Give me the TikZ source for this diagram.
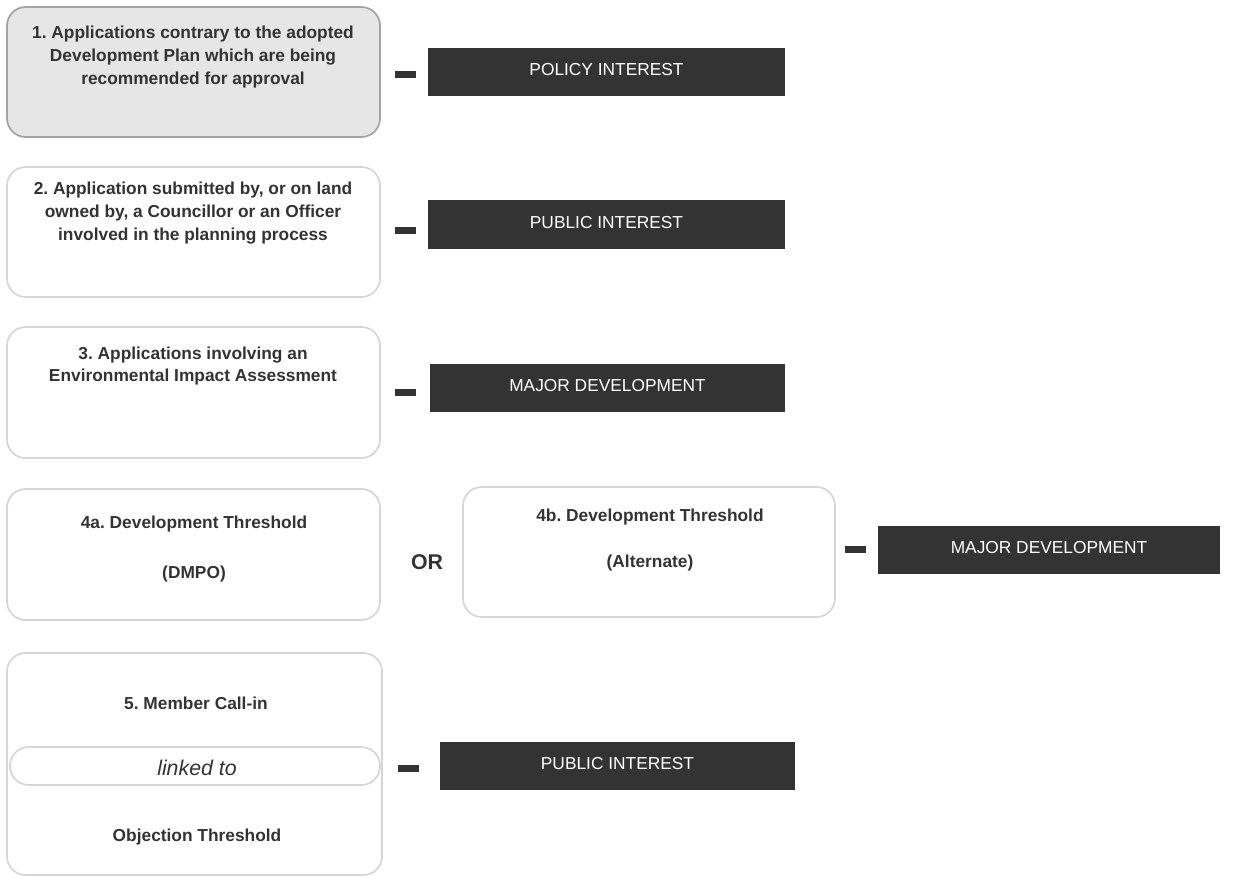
\documentclass[tikz,border=0pt]{standalone}
\usepackage{fontspec}
\setmainfont{Liberation Sans}
\frenchspacing
\definecolor{boxline}{HTML}{D6D6D6}
\definecolor{greyline}{HTML}{A4A4A4}
\definecolor{greyfill}{HTML}{E6E6E6}
\definecolor{darkbox}{HTML}{333333}
\definecolor{ink}{HTML}{333333}
\tikzset{
  rule/.style={draw=boxline, line width=1.3pt, rounded corners=14pt, inner sep=0pt,
    minimum width=279.75pt, minimum height=97.5pt},
  label text/.style={text=ink, font=\fontsize{13}{17}\selectfont\bfseries, align=center},
  tag/.style={fill=darkbox, text=white, font=\fontsize{13}{15}\selectfont,
    text height=9.5pt, text depth=4pt,
    minimum width=267.75pt, minimum height=36pt, inner sep=0pt},
  minus/.style={fill=darkbox, minimum width=15.75pt, minimum height=5.25pt, inner sep=0pt}
}
\begin{document}
\begin{tikzpicture}[x=0.75pt, y=-0.75pt]
    \useasboundingbox (0,0) rectangle (1239,876);
    % criteria boxes
    \node[rule, fill=greyfill, draw=greyline] (crit1) at (193.5,72) {};
    \node[rule] (crit2) at (193.5,232) {};
    \node[rule, minimum height=98.25pt] (crit3) at (193.5,392.5) {};
    \node[rule, minimum height=98.25pt] (crit4a) at (193.5,554.5) {};
    \node[rule, minimum width=279pt] (crit4b) at (649,552) {};
    \node[rule, minimum width=281.25pt, minimum height=166.5pt] (crit5) at (194.5,764) {};
    \node[rule, minimum width=277.5pt, minimum height=28.5pt] (link) at (195,766) {};
    % texts
    \node[label text] (t1) at (193,57) {1. Applications contrary to the adopted\\Development Plan which are being\\recommended for approval};
    \node[label text] (t2) at (193,213) {2. Application submitted by, or on land\\owned by, a Councillor or an Officer\\involved in the planning process};
    \node[label text] (t3) at (193,366) {3. Applications involving an\\Environmental Impact Assessment};
    \node[label text] (t4a) at (194,524) {4a. Development Threshold};
    \node[label text] (t4a2) at (194,574) {(DMPO)};
    \node[label text, font=\fontsize{16}{18}\selectfont\bfseries] (or) at (427,562) {OR};
    \node[label text] (t4b) at (650,517) {4b. Development Threshold};
    \node[label text] (t4b2) at (650,563) {(Alternate)};
    \node[label text] (t5) at (196,703) {5. Member Call-in};
    \node[label text, font=\fontsize{16}{18}\selectfont\itshape] (t5l) at (197,768) {linked to};
    \node[label text] (t5o) at (197,837) {Objection Threshold};
    % outcomes
    \node[minus] (m1) at (405.5,74.5) {};
    \node[tag] (o1) at (606.5,72) {POLICY INTEREST};
    \node[minus] (m2) at (405.5,230.5) {};
    \node[tag, minimum height=36.75pt] (o2) at (606.5,224.5) {PUBLIC INTEREST};
    \node[minus] (m3) at (405.5,392.5) {};
    \node[tag, minimum width=266.25pt] (o3) at (607.5,388) {MAJOR DEVELOPMENT};
    \node[minus] (m4) at (855.5,549.5) {};
    \node[tag, minimum width=256.5pt] (o4) at (1049,549.5) {MAJOR DEVELOPMENT};
    \node[minus] (m5) at (408.5,768.5) {};
    \node[tag, minimum width=266.25pt] (o5) at (617.5,765.5) {PUBLIC INTEREST};
\end{tikzpicture}
\end{document}
